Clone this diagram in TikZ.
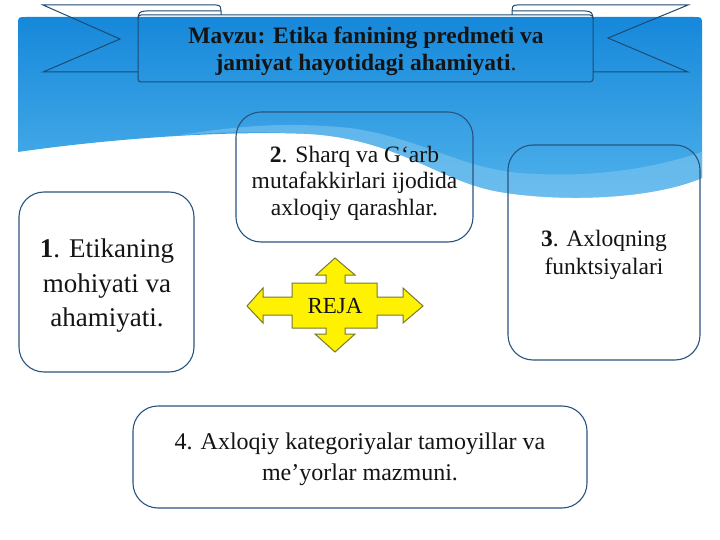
\documentclass[tikz,border=0pt]{standalone}
\usepackage{fontspec}
\setmainfont{Liberation Serif}
\definecolor{bluetop}{RGB}{22,136,218}
\definecolor{bluebot}{RGB}{80,178,235}
\definecolor{bandc}{RGB}{130,200,240}
\definecolor{edgec}{RGB}{40,84,128}
\definecolor{ribc}{RGB}{30,75,115}
\definecolor{txt}{RGB}{20,20,20}
\definecolor{arrowedge}{RGB}{120,120,50}
\tikzset{
  box/.style={draw=edgec, line width=1.1pt, rounded corners=25pt},
  rib/.style={draw=ribc, line width=1pt},
  boxtext/.style={text=txt, align=center, inner sep=0pt},
}
\begin{document}
\begin{tikzpicture}[x=1pt,y=-1pt]
\useasboundingbox (0,0) rectangle (720,540);
\fill[white] (0,0) rectangle (720,540);
% blue background with wavy bottom
\shade[top color=bluetop, bottom color=bluebot]
  (18,152) -- (18,25) .. controls (18,17) .. (26,17) -- (694,17)
  .. controls (702,17) .. (702,25) -- (702,178)
  .. controls (650,200) and (560,202) .. (500,192)
  .. controls (440,182) and (400,140) .. (310,134)
  .. controls (220,130) and (100,140) .. (18,152) -- cycle;
% lighter wave band
\fill[bandc, opacity=0.55]
  (702,178)
  .. controls (650,200) and (560,202) .. (500,192)
  .. controls (440,182) and (400,140) .. (310,134)
  .. controls (250,131) and (210,132) .. (175,136)
  .. controls (240,125) and (290,122) .. (350,128)
  .. controls (420,138) and (460,168) .. (520,173)
  .. controls (600,179) and (660,166) .. (702,152) -- cycle;
% ribbon tails
\draw[rib, line join=miter] (138,72) -- (43,72) -- (120,39) -- (43,5) -- (216,5)
  .. controls (221,5) and (221,8) .. (221,11) -- (221,15);
\draw[rib] (138,19) .. controls (138,13) and (140,11) .. (146,11) -- (217,11)
  .. controls (220,11) and (221,11) .. (221,11);
\draw[rib, line join=miter] (593,72) -- (688,72) -- (608,38) -- (688,5) -- (517,5)
  .. controls (512,5) and (512,8) .. (512,11) -- (512,15);
\draw[rib] (593,19) .. controls (593,13) and (591,11) .. (585,11) -- (516,11)
  .. controls (513,11) and (512,11) .. (512,11);
% ribbon centre
\node[rib, rounded corners=3pt, minimum width=455pt, minimum height=67pt, inner sep=0pt]
  (title) at (365.5,48.5) {};
\node[boxtext, font=\fontsize{23.5}{27}\selectfont\bfseries] (titletext) at (366,51)
  {Mavzu: Etika fanining predmeti va\\jamiyat hayotidagi ahamiyati\textmd{.}};
% boxes
\node[box, minimum width=175pt, minimum height=180pt] (b1) at (106.5,282) {};
\node[box, minimum width=237pt, minimum height=130pt] (b2) at (354.5,177) {};
\node[box, minimum width=192pt, minimum height=215pt] (b3) at (604,252.5) {};
\node[box, minimum width=454pt, minimum height=102pt] (b4) at (360,457) {};
\node[boxtext, font=\fontsize{27}{34.5}\selectfont] (t1) at (107,286)
  {\textbf{1}. Etikaning\\mohiyati va\\ahamiyati.};
\node[boxtext, font=\fontsize{23.5}{26.5}\selectfont] (t2) at (354.5,183)
  {\textbf{2}. Sharq va G‘arb\\mutafakkirlari ijodida\\axloqiy qarashlar.};
\node[boxtext, font=\fontsize{23.5}{28}\selectfont] (t3) at (604,255)
  {\textbf{3}. Axloqning\\funktsiyalari};
\node[boxtext, font=\fontsize{24}{31}\selectfont] (t4) at (360,459)
  {4. Axloqiy kategoriyalar tamoyillar va\\me’yorlar mazmuni.};
% quad arrow
\draw[fill=yellow, draw=arrowedge, line width=1pt, line join=miter]
  (335,258) -- (355,275) -- (345,275) -- (345,283) -- (377,283) -- (377,297)
  -- (403,297) -- (403,288) -- (423,306) -- (403,323) -- (403,315) -- (377,315)
  -- (377,328) -- (345,328) -- (345,334) -- (355,334) -- (335,352) -- (315,334)
  -- (326,334) -- (326,328) -- (292,328) -- (292,315) -- (263,315) -- (263,323)
  -- (247,306) -- (263,288) -- (263,297) -- (292,297) -- (292,283) -- (326,283)
  -- (326,275) -- (316,275) -- cycle;
\node[boxtext, font=\fontsize{23}{26}\selectfont] (reja) at (335,306) {REJA};
\end{tikzpicture}
\end{document}
